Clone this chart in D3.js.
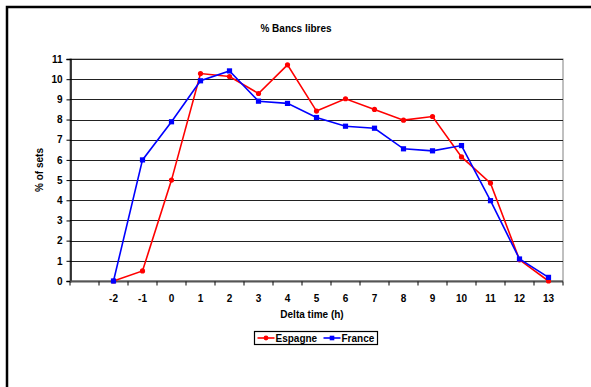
<!DOCTYPE html>
<html>
<head>
<meta charset="utf-8">
<script src="https://cdn.jsdelivr.net/npm/d3@7"></script>
<style>
  html, body { margin: 0; padding: 0; background: #fff; }
  svg { display: block; font-family: "Liberation Sans", Arial, sans-serif; }
</style>
</head>
<body>
<svg id="chart" width="591" height="387"></svg>
<script>
// Hours relative to the event; a blank leading slot is kept on the axis
const categories = ["", "-2", "-1", "0", "1", "2", "3", "4", "5", "6", "7", "8", "9", "10", "11", "12", "13"];
const hours = ["-2", "-1", "0", "1", "2", "3", "4", "5", "6", "7", "8", "9", "10", "11", "12", "13"];
const espagne = [0, 0.5, 5.0, 10.28, 10.13, 9.29, 10.71, 8.42, 9.03, 8.5, 7.97, 8.15, 6.15, 4.85, 1.05, 0];
const france  = [0, 6.0, 7.89, 9.92, 10.41, 8.91, 8.8, 8.1, 7.67, 7.57, 6.55, 6.45, 6.71, 3.98, 1.09, 0.18];
const yTicks = [0, 1, 2, 3, 4, 5, 6, 7, 8, 9, 10, 11];
const seriesNames = ["Espagne", "France"];
const seriesColors = ["#ff0000", "#0000ff"];

const svg = d3.select("#chart");

// Outer frame (only top and left edges fall inside the canvas)
svg.append("rect").attr("x", 7).attr("y", 7).attr("width", 600).attr("height", 400)
  .attr("fill", "none").attr("stroke", "#000").attr("stroke-width", 2.5);

const plot = { left: 70, right: 563, top: 59, bottom: 281 };

const x = d3.scaleBand().domain(categories).range([plot.left, plot.right]);
const y = d3.scaleLinear().domain([0, 11]).range([plot.bottom, plot.top]);

// Plot area border
svg.append("rect")
  .attr("x", plot.left).attr("y", plot.top)
  .attr("width", plot.right - plot.left).attr("height", plot.bottom - plot.top)
  .attr("fill", "none").attr("stroke", "#808080").attr("stroke-width", 1);

// Horizontal gridlines
svg.append("g").selectAll("line").data(yTicks.filter(d => d > 0)).join("line")
  .attr("x1", plot.left).attr("x2", plot.right)
  .attr("y1", d => Math.round(y(d)) + 0.5).attr("y2", d => Math.round(y(d)) + 0.5)
  .attr("stroke", "#222").attr("stroke-width", 1);

// Y axis
const yAxis = svg.append("g").attr("transform", `translate(${plot.left + 0.5},0)`)
  .call(d3.axisLeft(y).tickValues(yTicks).tickSize(4).tickPadding(4).tickFormat(d3.format("d")));
yAxis.select(".domain").attr("stroke", "#000").attr("stroke-width", 1.5);
yAxis.selectAll(".tick line").attr("stroke", "#000");
yAxis.selectAll("text").attr("font-size", 10).attr("font-weight", "bold").attr("fill", "#000")
  .attr("font-family", "Liberation Sans, Arial, sans-serif");

// X axis with ticks on slot boundaries
const xAxisG = svg.append("g").attr("transform", `translate(0,${plot.bottom + 0.5})`);
xAxisG.append("line").attr("x1", plot.left).attr("x2", plot.right)
  .attr("stroke", "#555").attr("stroke-width", 2);
const bounds = categories.map(c => x(c)).concat([plot.right]);
xAxisG.selectAll("line.tk").data(bounds).join("line").attr("class", "tk")
  .attr("x1", d => d).attr("x2", d => d).attr("y1", 0).attr("y2", 4)
  .attr("stroke", "#000").attr("stroke-width", 1);
xAxisG.selectAll("text").data(categories).join("text")
  .attr("x", d => x(d) + x.bandwidth() / 2).attr("y", 20)
  .attr("text-anchor", "middle").attr("font-size", 10).attr("font-weight", "bold")
  .text(d => d);

// Series lines and markers
const line = d3.line().x((d, i) => x(hours[i]) + x.bandwidth() / 2).y(d => y(d));
[espagne, france].forEach((vals, s) => {
  svg.append("path").datum(vals).attr("d", line)
    .attr("fill", "none").attr("stroke", seriesColors[s]).attr("stroke-width", 1.6);
  const g = svg.append("g");
  if (s === 0) {
    g.selectAll("circle").data(vals).join("circle")
      .attr("cx", (d, i) => x(hours[i]) + x.bandwidth() / 2).attr("cy", d => y(d))
      .attr("r", 2.6).attr("fill", seriesColors[s]);
  } else {
    g.selectAll("rect").data(vals).join("rect")
      .attr("x", (d, i) => x(hours[i]) + x.bandwidth() / 2 - 2.6).attr("y", d => y(d) - 2.6)
      .attr("width", 5.2).attr("height", 5.2).attr("fill", seriesColors[s]);
  }
});

// Title and axis titles
svg.append("text").attr("x", 296).attr("y", 32).attr("text-anchor", "middle")
  .attr("font-size", 10).attr("font-weight", "bold").text("% Bancs libres");
svg.append("text").attr("x", 312).attr("y", 318).attr("text-anchor", "middle")
  .attr("font-size", 10).attr("font-weight", "bold").text("Delta time (h)");
svg.append("text").attr("transform", `translate(43,170) rotate(-90)`).attr("text-anchor", "middle")
  .attr("font-size", 10).attr("font-weight", "bold").text("% of sets");

// Legend
const lg = svg.append("g").attr("transform", "translate(254.5,331.5)");
lg.append("rect").attr("width", 123).attr("height", 13).attr("fill", "#fff")
  .attr("stroke", "#000").attr("stroke-width", 1.2);
const legendX = [3, 69];
seriesNames.forEach((name, s) => {
  const g = lg.append("g").attr("transform", `translate(${legendX[s]},6.5)`);
  g.append("line").attr("x1", 0).attr("x2", 17).attr("stroke", seriesColors[s]).attr("stroke-width", 1.6);
  if (s === 0) g.append("circle").attr("cx", 8.5).attr("r", 2.4).attr("fill", seriesColors[s]);
  else g.append("rect").attr("x", 6.2).attr("y", -2.3).attr("width", 4.6).attr("height", 4.6).attr("fill", seriesColors[s]);
  g.append("text").attr("x", 18).attr("y", 3.8).attr("font-size", 10).attr("font-weight", "bold").text(name);
});
</script>
</body>
</html>
